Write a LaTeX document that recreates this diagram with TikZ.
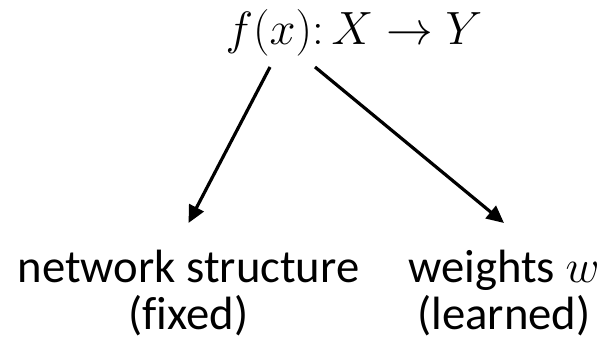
\RequirePackage{fix-cm}
\documentclass[tikz,border=0pt]{standalone}
\usepackage{amsmath}
\usepackage{fontspec}
\setmainfont{Carlito}[Ligatures=NoCommon]
\usetikzlibrary{arrows.meta, calc}

\begin{document}
\begin{tikzpicture}[x=0.75pt, y=0.75pt,
    label text/.style={font=\fontsize{35}{35}\selectfont, inner sep=0pt, align=center},
    flow/.style={line width=2.4pt, -{Triangle[length=13pt, width=12pt]}}]
  \useasboundingbox (0,0) rectangle (616,346);
  \node[label text, anchor=base] (map) at (354,301) {$f(x)\mathpunct{:}X \to Y$};
  \node[label text, anchor=north] (struct) at (188.5,96) {network structure\\(fixed)};
  \node[label text, anchor=north] (weights) at (504,96) {weights $w$\\(learned)};
  \coordinate (from left) at ($(map.base)+(-84,-22)$);
  \coordinate (from right) at ($(map.base)+(-39,-22)$);
  \draw[flow] (from left) -- ($(struct.north)+(0,27)$);
  \draw[flow] (from right) -- ($(weights.north)+(0,27)$);
\end{tikzpicture}
\end{document}
